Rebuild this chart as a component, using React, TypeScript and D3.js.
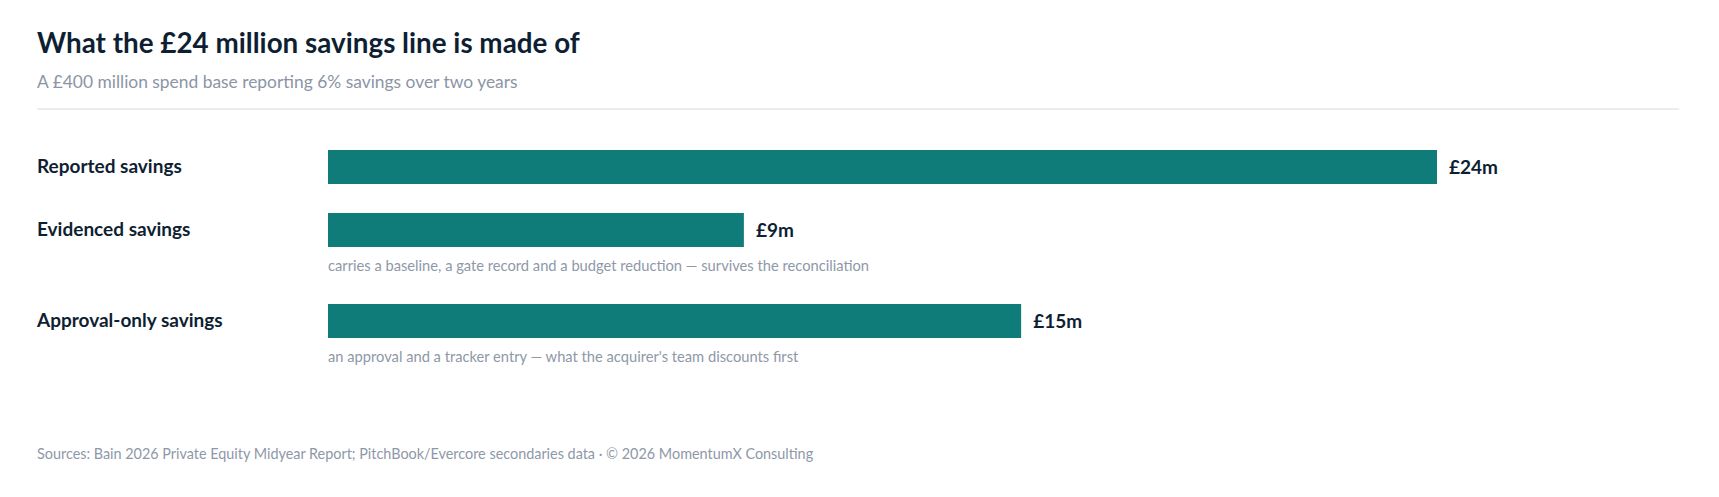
import React from 'react';
import * as d3 from 'd3';

const categories = ['Reported savings', 'Evidenced savings', 'Approval-only savings'];
const values = [24, 9, 15];
const valueLabels = ['£24m', '£9m', '£15m'];
const notes = [
  '',
  'carries a baseline, a gate record and a budget reduction — survives the reconciliation',
  'an approval and a tracker entry — what the acquirer\'s team discounts first',
];

const title = 'What the £24 million savings line is made of';
const subtitle = 'A £400 million spend base reporting 6% savings over two years';
const footer = 'Sources: Bain 2026 Private Equity Midyear Report; PitchBook/Evercore secondaries data · © 2026 MomentumX Consulting';

const W = 1719;
const H = 497;
const FONT = 'Lato, "Noto Sans", sans-serif';

export default function App() {
  const left = 37;
  const barLeft = 328;
  const barH = 34;

  // x scale: 0 -> 24m maps onto the bar area
  const x = d3.scaleLinear()
      .domain([0, d3.max(values) as number])
      .range([barLeft, 1437]);

  // row tops: rows with a note take more room
  const tops: number[] = [];
  let y = 150;
  categories.forEach((c, i) => {
    tops.push(y);
    y += barH + 29 + (notes[i] ? 28 : 0);
  });

  return (
    <svg width={W} height={H} style={{position: 'absolute', left: 0, top: 0, background: '#fff'}}
      fontFamily={FONT}>
      <text x={left} y={53} fontSize={27.8} fontWeight={700} fill="#0f1f33">{title}</text>
      <text x={left} y={87.5} fontSize={17.4} fill="#8b95a5">{subtitle}</text>
      <line x1={left} x2={1679} y1={109} y2={109} stroke="#e5e7eb" strokeWidth={1.5} />

      {categories.map((c, i) => (
        <g key={c}>
          <text x={left} y={tops[i] + barH / 2} dy="0.3em" fontSize={19}
            fontWeight={700} fill="#0f1f33">{c}</text>
          <rect x={x(0)} y={tops[i]} width={x(values[i]) - x(0)} height={barH}
            fill="#0f7c7a" />
          <text x={x(values[i]) + 12} y={tops[i] + barH / 2} dy="0.35em" fontSize={19}
            fontWeight={700} fill="#0f1f33">{valueLabels[i]}</text>
          {notes[i] && (
            <text x={barLeft} y={tops[i] + barH + 24} fontSize={14.7}
              fill="#8e98a8">{notes[i]}</text>
          )}
        </g>
      ))}

      <text x={left} y={458.5} fontSize={14.4} fill="#8e98a8">{footer}</text>
    </svg>
  );
}
